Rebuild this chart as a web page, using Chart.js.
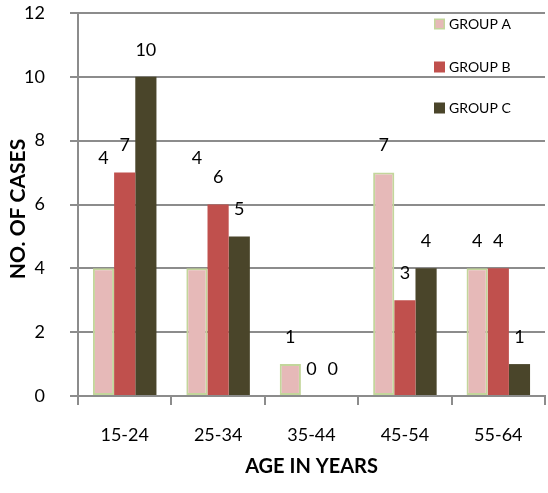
<!DOCTYPE html>
<html>
<head>
<meta charset="utf-8">
<script src="https://cdn.jsdelivr.net/npm/chart.js@4.4.0/dist/chart.umd.min.js"></script>
<style>
  html, body { margin: 0; padding: 0; background: #fff; }
  #wrap { width: 548px; height: 493px; }
</style>
</head>
<body>
<div id="wrap"><canvas id="casesChart"></canvas></div>
<script>
const ageGroups = ['15-24', '25-34', '35-44', '45-54', '55-64'];
const groupA = [4, 4, 1, 7, 4];
const groupB = [7, 6, 0, 3, 4];
const groupC = [10, 5, 0, 4, 1];
const yTicks = [0, 2, 4, 6, 8, 10, 12];

Chart.defaults.font.family = 'Lato, "Open Sans", sans-serif';
Chart.defaults.color = '#000';

const gridGray = '#8c8c8c';

// value labels above each bar (the two pink "4"s sit higher, like in the original)
const barLabels = {
  id: 'barLabels',
  afterDatasetsDraw(chart) {
    const ctx = chart.ctx;
    const raised = { '0-0': 110, '0-1': 110 };
    ctx.save();
    ctx.font = '18px Lato, sans-serif';
    ctx.fillStyle = '#000';
    ctx.textAlign = 'center';
    ctx.textBaseline = 'middle';
    chart.data.datasets.forEach((ds, i) => {
      chart.getDatasetMeta(i).data.forEach((bar, j) => {
        const lift = raised[i + '-' + j] || 27;
        ctx.fillText(String(ds.data[j]), bar.x, bar.y - lift);
      });
    });
    ctx.restore();
  }
};

// legend stacked inside the plot, top right + y axis title
const sideLegend = {
  id: 'sideLegend',
  afterDraw(chart) {
    const ctx = chart.ctx;
    const rows = [24, 67, 108];
    ctx.save();
    ctx.font = '14px Lato, sans-serif';
    ctx.textBaseline = 'middle';
    chart.data.datasets.forEach((ds, i) => {
      const y = rows[i];
      ctx.fillStyle = ds.borderColor;
      ctx.fillRect(434, y - 5.5, 11, 11);
      ctx.fillStyle = ds.backgroundColor;
      ctx.fillRect(435.5, y - 4, 8, 8);
      ctx.fillStyle = '#000';
      ctx.fillText(ds.label, 449, y);
    });

    ctx.translate(18, 209);
    ctx.rotate(-Math.PI / 2);
    ctx.font = 'bold 21px Lato, sans-serif';
    ctx.textAlign = 'center';
    ctx.fillText('NO. OF CASES', 0, 0);
    ctx.restore();
  }
};

new Chart(document.getElementById('casesChart'), {
  type: 'bar',
  data: {
    labels: ageGroups,
    datasets: [
      { label: 'GROUP A', data: groupA, backgroundColor: '#e6b9b8', borderColor: '#c3d69b', borderWidth: 2 },
      { label: 'GROUP B', data: groupB, backgroundColor: '#c0504d', borderColor: '#c0504d', borderWidth: 0 },
      { label: 'GROUP C', data: groupC, backgroundColor: '#4a452a', borderColor: '#4a452a', borderWidth: 0 }
    ]
  },
  options: {
    responsive: true,
    maintainAspectRatio: false,
    animation: false,
    layout: { padding: { top: 13, right: 3, left: 0, bottom: 0 } },
    plugins: {
      legend: { display: false },
      tooltip: { enabled: false }
    },
    datasets: {
      bar: { categoryPercentage: 0.68, barPercentage: 1.0, borderSkipped: false }
    },
    scales: {
      x: {
        grid: { offset: true, drawOnChartArea: false, color: gridGray, lineWidth: 2, tickLength: 9 },
        border: { color: gridGray, width: 2 },
        ticks: { font: { size: 18 }, padding: 19 },
        title: { display: true, text: 'AGE IN YEARS', font: { size: 20, weight: 'bold' }, padding: { top: 0, bottom: 14 } },
        afterFit: s => { s.height = 97; s.paddingLeft = 0; s.paddingRight = 0; }
      },
      y: {
        min: 0,
        max: 12,
        afterBuildTicks: s => { s.ticks = yTicks.map(v => ({ value: v })); },
        grid: { color: gridGray, lineWidth: 2, tickLength: 8 },
        border: { color: gridGray, width: 2 },
        ticks: { font: { size: 18 }, padding: 25 },
        title: { display: false },
        afterFit: s => { s.width = 78; s.paddingTop = 0; s.paddingBottom = 0; }
      }
    }
  },
  plugins: [barLabels, sideLegend]
});
</script>
</body>
</html>
